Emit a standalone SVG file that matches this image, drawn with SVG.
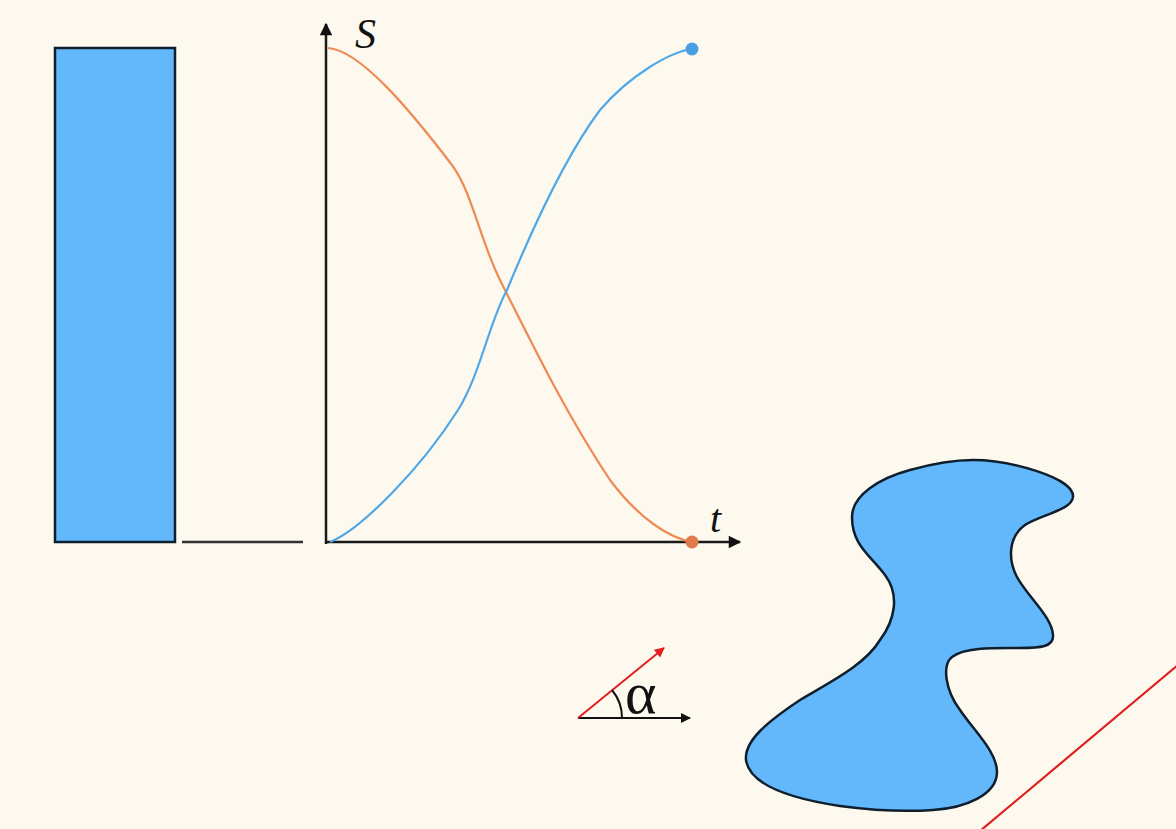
<svg xmlns="http://www.w3.org/2000/svg" width="1176" height="829" viewBox="0 0 1176 829">
<style>
.ax{stroke:#1a1a1a;stroke-width:2.5;fill:none}
.shape{fill:#63b8fb;stroke:#0f1e2c;stroke-width:2.5}
.lbl{font-family:"Liberation Serif",serif;font-style:italic;fill:#111}
</style>
<defs>
<marker id="ah" viewBox="0 0 10 10" refX="9" refY="5" markerWidth="6" markerHeight="5" orient="auto" markerUnits="strokeWidth"><path d="M0,0 L10,5 L0,10 Z" fill="#111"/></marker>
<marker id="ahr" viewBox="0 0 10 10" refX="9" refY="5" markerWidth="6" markerHeight="5" orient="auto" markerUnits="strokeWidth"><path d="M0,0 L10,5 L0,10 Z" fill="#e02020"/></marker>
</defs>
<rect width="1176" height="829" fill="#fdf9ee"/>
<g id="bar"><rect class="shape" x="55" y="48" width="120" height="494" stroke-width="2.2"/></g>
<g id="baseline"><line x1="182" y1="542" x2="303" y2="542" stroke="#333" stroke-width="2.5"/></g>
<g id="axes">
<line class="ax" x1="326" y1="544" x2="326" y2="24" marker-end="url(#ah)"/>
<line class="ax" x1="325" y1="542" x2="740" y2="542" marker-end="url(#ah)"/>
<text class="lbl" x="355" y="48" font-size="42">S</text>
<text class="lbl" x="710" y="532" font-size="40">t</text>
</g>
<g id="curves">
<path d="M 328 48 C 360 50 410 110 452 165 C 472 192 480 240 500 280 C 540 360 570 420 610 480 C 640 520 670 538 692 542" fill="none" stroke="#ef8a55" stroke-width="2.2"/>
<path d="M 330 542 C 360 530 420 470 458 410 C 480 375 490 320 507 290 C 540 210 570 150 600 110 C 630 75 670 52 692 49" fill="none" stroke="#4ea8e8" stroke-width="2.2"/>
<circle cx="692" cy="49" r="6.5" fill="#4a9fe2"/>
<circle cx="692" cy="542" r="6.5" fill="#e07a4c"/>
</g>
<g id="angle">
<line x1="578" y1="718" x2="690" y2="718" stroke="#111" stroke-width="2" marker-end="url(#ah)"/>
<line x1="578" y1="718" x2="664" y2="648" stroke="#e02020" stroke-width="2" marker-end="url(#ahr)"/>
<path d="M 612 690 A 44 44 0 0 1 622 718" fill="none" stroke="#111" stroke-width="2"/>
<text x="625" y="713" font-family="Liberation Serif,serif" font-size="60" fill="#111">α</text>
</g>
<g id="blob">
<path class="shape" d="M 973 460 C 1010 460 1075 478 1073 497 C 1072 510 1040 515 1025 525 C 1008 537 1008 560 1017 577 C 1028 597 1052 617 1053 635 C 1054 647 1040 648 1020 648 C 995 648 965 647 952 657 C 942 665 945 690 960 710 C 975 732 997 752 997 772 C 997 795 965 808 933 810 C 905 812 870 810 840 806 C 800 800 750 788 746 760 C 744 740 770 720 800 700 C 830 682 865 665 880 640 C 895 620 900 595 885 575 C 870 555 852 545 852 517 C 852 495 880 478 910 470 C 935 463 955 460 973 460 Z"/>
</g>
<g id="redline"><line x1="980" y1="831" x2="1178" y2="665" stroke="#e02020" stroke-width="2.2"/></g>
</svg>
